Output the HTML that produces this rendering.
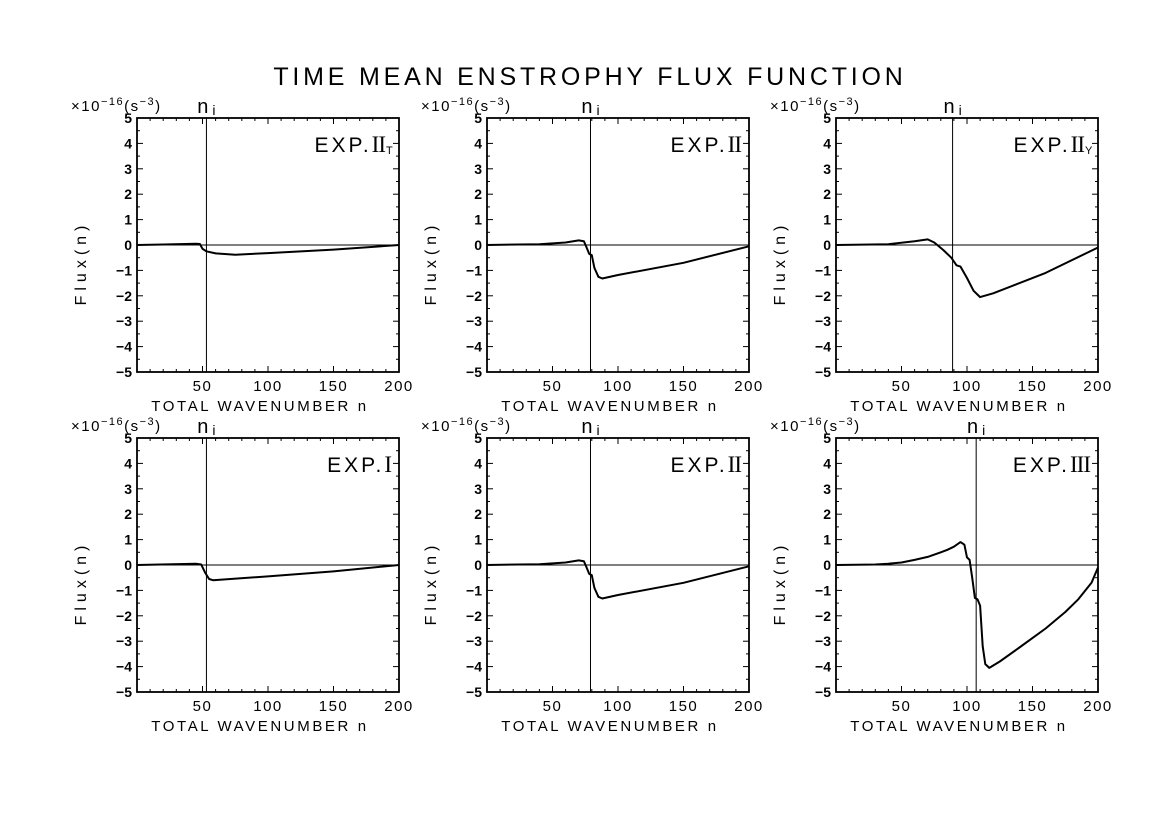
<!DOCTYPE html>
<html><head><meta charset="utf-8"><style>
body{margin:0;background:#fff;}
svg{display:block;font-family:"Liberation Sans",sans-serif;}
</style></head><body>
<svg id="fig" width="1171" height="828">
<text x="590" y="85" text-anchor="middle" font-size="25" letter-spacing="3.8">TIME MEAN ENSTROPHY FLUX FUNCTION</text>
</svg>
<script>
const xTicks=[50,100,150,200];
const yTicks=[-5,-4,-3,-2,-1,0,1,2,3,4,5];
const labels=["II","II","II","I","II","III"];
const subs=["T","","Y","","",""];
const niVals=[53,79,89,53,79,107];
const nA=[0,20,45,48,50,53,60,75,100,150,200];
const fA=[0,0.02,0.05,0.04,-0.15,-0.25,-0.33,-0.38,-0.32,-0.18,0];
const nB=[0,40,60,70,74,76,78,80,82,85,88,100,150,200];
const fB=[0,0.03,0.1,0.18,0.15,-0.1,-0.35,-0.4,-0.9,-1.25,-1.32,-1.18,-0.7,-0.05];
const nC=[0,40,60,70,75,82,88,92,95,100,105,110,120,160,200];
const fC=[0,0.03,0.15,0.22,0.1,-0.2,-0.5,-0.8,-0.85,-1.3,-1.8,-2.05,-1.9,-1.1,-0.1];
const nD=[0,45,49,52,55,58,100,150,200];
const fD=[0,0.05,0.02,-0.3,-0.55,-0.6,-0.45,-0.25,0];
const nF=[0,30,40,50,60,70,80,85,90,95,98,100,102,104,106,108,110,112,114,117,125,140,160,175,185,195,200];
const fF=[0,0.02,0.05,0.1,0.2,0.32,0.5,0.6,0.72,0.9,0.8,0.3,0.2,-0.5,-1.3,-1.35,-1.6,-3.2,-3.9,-4.05,-3.8,-3.25,-2.5,-1.85,-1.35,-0.7,-0.1];
const seriesN=[nA,nB,nC,nD,nB,nF];
const seriesF=[fA,fB,fC,fD,fB,fF];
const svg=document.getElementById('fig');
const NS='http://www.w3.org/2000/svg';
function mk(t,a,p){const e=document.createElementNS(NS,t);for(const k in a)e.setAttribute(k,a[k]);(p||svg).appendChild(e);return e;}
const X0=[137,487,836],Y0=[118,438],W=262,H=254;
for(let i=0;i<6;i++){
  const px=X0[i%3],py=Y0[Math.floor(i/3)];
  const g=mk('g',{});
  
  
  const xs=v=>px+v/200*W, ys=v=>py+(5-v)/10*H;
  const box=mk('rect',{x:px,y:py,width:W,height:H,fill:'none',stroke:'#000','stroke-width':1.8},g);
  
  
  for(let v=10;v<200;v+=10){const L=v%50==0?6:3;
    mk('line',{x1:xs(v),x2:xs(v),y1:py+H,y2:py+H-L,stroke:'#000'},g);
    mk('line',{x1:xs(v),x2:xs(v),y1:py,y2:py+L,stroke:'#000'},g);}
  for(let v=-5;v<=5;v+=0.5){const L=Number.isInteger(v)?6:3;
    mk('line',{x1:px,x2:px+L,y1:ys(v),y2:ys(v),stroke:'#000'},g);
    mk('line',{x1:px+W,x2:px+W-L,y1:ys(v),y2:ys(v),stroke:'#000'},g);}
  xTicks.forEach(v=>{const t=mk('text',{x:xs(v),y:py+H+19,'text-anchor':'middle','font-size':15,'letter-spacing':1.5},g);t.textContent=v;
    });
  yTicks.forEach(v=>{const t=mk('text',{x:px-5,y:ys(v)+5,'text-anchor':'end','font-size':14,'font-weight':'bold'},g);t.textContent=v<0?'−'+(-v):v;
    });
  const xt=mk('text',{x:px+W/2-8,y:py+H+39,'text-anchor':'middle','font-size':15,'letter-spacing':2.6},g);
  xt.textContent='TOTAL WAVENUMBER n';
  
  const yt=mk('text',{x:0,y:0,'text-anchor':'middle','font-size':16,'letter-spacing':5,transform:`translate(${px-51},${py+H/2+18}) rotate(-90)`},g);
  yt.textContent='Flux(n)';
  
  const un=mk('text',{x:px-66,y:py-7,'font-size':15,'letter-spacing':1.5},g);
  un.innerHTML='×10<tspan dy="-6" font-size="11">−16</tspan><tspan dy="6">(s</tspan><tspan dy="-6" font-size="11">−3</tspan><tspan dy="6">)</tspan>';
  
  mk('line',{x1:px,x2:px+W,y1:ys(0),y2:ys(0),stroke:'#000','stroke-width':1},g);
  const nx=xs(niVals[i]);
  const vl=mk('line',{x1:nx,x2:nx,y1:py,y2:py+H,stroke:'#000','stroke-width':1},g);
  
  const nt=mk('text',{x:nx,y:py-5,'text-anchor':'middle','font-size':20},g);
  nt.innerHTML='n<tspan font-size="14" dx="4" dy="2">i</tspan>';
  
  const lb=mk('text',{x:px+W-8-(subs[i]?6:0),y:py+34,'text-anchor':'end','font-size':21,'letter-spacing':3},g);
  lb.innerHTML='EXP.<tspan font-family="Liberation Serif, serif" font-size="23" letter-spacing="-1">'+labels[i]+'</tspan>';
  
  if(subs[i]){const s=mk('text',{x:px+W-13,y:py+36,'font-size':11},g);s.textContent=subs[i];
    }
  const N=seriesN[i],F=seriesF[i];
  const d=N.map((n,k)=>(k?'L':'M')+xs(n).toFixed(1)+','+ys(F[k]).toFixed(1)).join(' ');
  const p=mk('path',{d:d,fill:'none',stroke:'#000','stroke-width':2,'stroke-linejoin':'round'},g);
  
}
</script>
</body></html>
